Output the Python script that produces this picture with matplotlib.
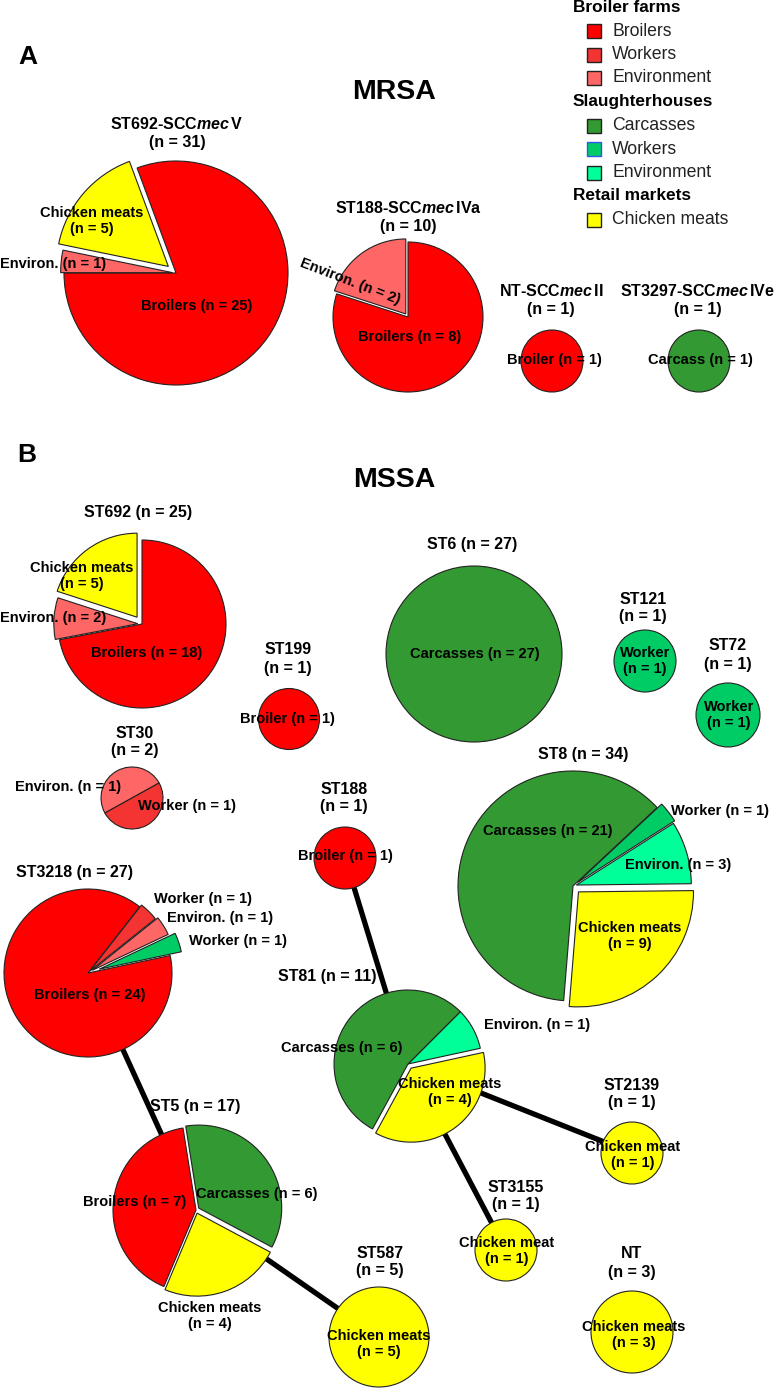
import math
import matplotlib.pyplot as plt
from matplotlib.patches import Rectangle

W, H = 777, 1389

plt.rcParams['font.family'] = ['Liberation Sans', 'DejaVu Sans']
plt.rcParams['mathtext.fontset'] = 'custom'
plt.rcParams['mathtext.rm'] = 'Liberation Sans:bold'
plt.rcParams['mathtext.it'] = 'Liberation Sans:italic:bold'
plt.rcParams['mathtext.bf'] = 'Liberation Sans:bold'

# --- colores por origen ---
colors = {
    'broiler': '#FF0000',
    'farm_worker': '#F43333',
    'farm_env': '#FF6666',
    'carcass': '#339933',
    'sh_worker': '#00CC66',
    'sh_env': '#00FF99',
    'meat': '#FFFF00',
}

# --- leyenda ---
legend_groups = ['Broiler farms', 'Slaughterhouses', 'Retail markets']
legend_items = [['Broilers', 'Workers', 'Environment'],
                ['Carcasses', 'Workers', 'Environment'],
                ['Chicken meats']]
legend_keys = [['broiler', 'farm_worker', 'farm_env'],
               ['carcass', 'sh_worker', 'sh_env'],
               ['meat']]

# --- datos MRSA ---
a_st692_title = 'ST692-SCC$\\mathit{mec}\\,$V\n(n = 31)'
a_st692_keys = ['broiler', 'meat', 'farm_env']
a_st692_names = ['Broilers', 'Chicken meats', 'Environ.']
a_st692_n = [25, 5, 1]

a_st188_title = 'ST188-SCC$\\mathit{mec}\\,$IVa\n(n = 10)'
a_st188_keys = ['farm_env', 'broiler']
a_st188_names = ['Environ.', 'Broilers']
a_st188_n = [2, 8]

a_nt_title = 'NT-SCC$\\mathit{mec}\\,$II\n(n = 1)'
a_nt_keys = ['broiler']
a_nt_names = ['Broiler']
a_nt_n = [1]

a_st3297_title = 'ST3297-SCC$\\mathit{mec}\\,$IVe\n(n = 1)'
a_st3297_keys = ['carcass']
a_st3297_names = ['Carcass']
a_st3297_n = [1]

# --- datos MSSA ---
b_st692_title = 'ST692 (n = 25)'
b_st692_keys = ['meat', 'farm_env', 'broiler']
b_st692_names = ['Chicken meats', 'Environ.', 'Broilers']
b_st692_n = [5, 2, 18]

b_st199_title = 'ST199\n(n = 1)'
b_st199_keys = ['broiler']
b_st199_names = ['Broiler']
b_st199_n = [1]

b_st6_title = 'ST6 (n = 27)'
b_st6_keys = ['carcass']
b_st6_names = ['Carcasses']
b_st6_n = [27]

b_st121_title = 'ST121\n(n = 1)'
b_st121_keys = ['sh_worker']
b_st121_names = ['Worker']
b_st121_n = [1]

b_st72_title = 'ST72\n(n = 1)'
b_st72_keys = ['sh_worker']
b_st72_names = ['Worker']
b_st72_n = [1]

b_st30_title = 'ST30\n(n = 2)'
b_st30_keys = ['farm_env', 'farm_worker']
b_st30_names = ['Environ.', 'Worker']
b_st30_n = [1, 1]

b_st8_title = 'ST8 (n = 34)'
b_st8_keys = ['sh_worker', 'sh_env', 'meat', 'carcass']
b_st8_names = ['Worker', 'Environ.', 'Chicken meats', 'Carcasses']
b_st8_n = [1, 3, 9, 21]

b_st188_title = 'ST188\n(n = 1)'
b_st188_keys = ['broiler']
b_st188_names = ['Broiler']
b_st188_n = [1]

b_st3218_title = 'ST3218 (n = 27)'
b_st3218_keys = ['broiler', 'sh_worker', 'farm_env', 'farm_worker']
b_st3218_names = ['Broilers', 'Worker', 'Environ.', 'Worker']
b_st3218_n = [24, 1, 1, 1]

b_st81_title = 'ST81 (n = 11)'
b_st81_keys = ['sh_env', 'meat', 'carcass']
b_st81_names = ['Environ.', 'Chicken meats', 'Carcasses']
b_st81_n = [1, 4, 6]

b_st5_title = 'ST5 (n = 17)'
b_st5_keys = ['carcass', 'meat', 'broiler']
b_st5_names = ['Carcasses', 'Chicken meats', 'Broilers']
b_st5_n = [6, 4, 7]

b_st2139_title = 'ST2139\n(n = 1)'
b_st2139_keys = ['meat']
b_st2139_names = ['Chicken meat']
b_st2139_n = [1]

b_st3155_title = 'ST3155\n(n = 1)'
b_st3155_keys = ['meat']
b_st3155_names = ['Chicken meat']
b_st3155_n = [1]

b_st587_title = 'ST587\n(n = 5)'
b_st587_keys = ['meat']
b_st587_names = ['Chicken meats']
b_st587_n = [5]

b_nt_title = 'NT\n(n = 3)'
b_nt_keys = ['meat']
b_nt_names = ['Chicken meats']
b_nt_n = [3]

# enlaces entre STs (MSSA)
b_links = [('st188', 'st81'), ('st3218', 'st5'), ('st5', 'st587'),
           ('st81', 'st2139'), ('st81', 'st3155')]

# --- posiciones (pixeles, y hacia abajo) ---
# c: centro, r: radio, t: titulo, explode: fraccion del radio,
# lab: (x, y, separador, rotacion) por porcion
pies = [
    (a_st692_title, a_st692_keys, a_st692_names, a_st692_n,
     dict(c=(176, 273), r=112, start=180, ccw=True, explode=[0, 0.09, 0.03], t=(177, 133),
          lab=[(197, 306, ' ', 0), (92, 221, '\n', 0), (53, 264, ' ', 0)])),
    (a_st188_title, a_st188_keys, a_st188_names, a_st188_n,
     dict(c=(408, 317), r=75, start=90, ccw=True, explode=[0.05, 0], t=(408, 217),
          lab=[(350, 282, ' ', -21), (410, 337, ' ', 0)])),
    (a_nt_title, a_nt_keys, a_nt_names, a_nt_n,
     dict(c=(552, 361), r=31, t=(551, 300), lab=[(554, 360, ' ', 0)])),
    (a_st3297_title, a_st3297_keys, a_st3297_names, a_st3297_n,
     dict(c=(699, 361), r=31, t=(698, 300), lab=[(700, 360, ' ', 0)])),
]

b_pies = {
    'st692': (b_st692_title, b_st692_keys, b_st692_names, b_st692_n,
              dict(c=(142, 624), r=84, start=90, ccw=True, explode=[0.1, 0.05, 0], t=(138, 512),
                   lab=[(82, 576, '\n', 0), (53, 618, ' ', 0), (147, 653, ' ', 0)])),
    'st199': (b_st199_title, b_st199_keys, b_st199_names, b_st199_n,
              dict(c=(289, 719), r=30.5, t=(288, 659), lab=[(287, 719, ' ', 0)])),
    'st6': (b_st6_title, b_st6_keys, b_st6_names, b_st6_n,
            dict(c=(474, 654), r=88, t=(472, 545), lab=[(475, 654, ' ', 0)])),
    'st121': (b_st121_title, b_st121_keys, b_st121_names, b_st121_n,
              dict(c=(645, 661), r=31, t=(643, 608), lab=[(645, 661, '\n', 0)])),
    'st72': (b_st72_title, b_st72_keys, b_st72_names, b_st72_n,
             dict(c=(728, 715), r=32, t=(728, 655), lab=[(729, 715, '\n', 0)])),
    'st30': (b_st30_title, b_st30_keys, b_st30_names, b_st30_n,
             dict(c=(132, 798), r=31, start=29, ccw=True, t=(135, 742),
                  lab=[(68, 787, ' ', 0), (187, 806, ' ', 0)])),
    'st8': (b_st8_title, b_st8_keys, b_st8_names, b_st8_n,
            dict(c=(573, 886), r=115, start=43, ccw=False, explode=[0.05, 0.03, 0.07, 0], t=(583, 755),
                 lab=[(720, 811, ' ', 0), (678, 865, ' ', 0), (630, 936, '\n', 0), (548, 831, ' ', 0)])),
    'st188': (b_st188_title, b_st188_keys, b_st188_names, b_st188_n,
              dict(c=(345, 858), r=31, t=(344, 798), lab=[(345, 856, ' ', 0)])),
    'st3218': (b_st3218_title, b_st3218_keys, b_st3218_names, b_st3218_n,
               dict(c=(88, 973), r=84, start=52, ccw=True, explode=[0, 0.14, 0.06, 0.03], t=(75, 873),
                    lab=[(90, 995, ' ', 0), (238, 941, ' ', 0), (220, 918, ' ', 0), (203, 899, ' ', 0)])),
    'st81': (b_st81_title, b_st81_keys, b_st81_names, b_st81_n,
             dict(c=(408, 1064), r=74, start=45, ccw=False, explode=[0, 0.07, 0], t=(327, 977),
                  lab=[(537, 1025, ' ', 0), (450, 1092, '\n', 0), (342, 1048, ' ', 0)])),
    'st5': (b_st5_title, b_st5_keys, b_st5_names, b_st5_n,
            dict(c=(196, 1210), r=83, start=99, ccw=False, explode=[0.04, 0.04, 0], t=(195, 1107),
                 lab=[(257, 1194, ' ', 0), (210, 1316, '\n', 0), (135, 1202, ' ', 0)])),
    'st2139': (b_st2139_title, b_st2139_keys, b_st2139_names, b_st2139_n,
               dict(c=(632, 1153), r=31, t=(632, 1094), lab=[(633, 1155, '\n', 0)])),
    'st3155': (b_st3155_title, b_st3155_keys, b_st3155_names, b_st3155_n,
               dict(c=(506, 1250), r=31, t=(516, 1196), lab=[(507, 1251, '\n', 0)])),
    'st587': (b_st587_title, b_st587_keys, b_st587_names, b_st587_n,
              dict(c=(379, 1337), r=50, t=(380, 1262), lab=[(379, 1344, '\n', 0)])),
    'nt': (b_nt_title, b_nt_keys, b_nt_names, b_nt_n,
           dict(c=(632, 1332), r=41, t=(632, 1263), lab=[(634, 1335, '\n', 0)])),
}

fig = plt.figure(figsize=(W / 100, H / 100), dpi=100)
ax = fig.add_axes([0, 0, 1, 1])


def draw_pie(title, keys, names, counts, lay):
    cx, cy = lay['c']
    r = lay['r']
    # pie() desplaza en unidades de datos, no en fraccion del radio
    expl = [e * r for e in lay['explode']] if 'explode' in lay else None
    ax.pie(counts, colors=[colors[k] for k in keys], radius=r, center=(cx, H - cy),
           startangle=lay.get('start', 90), counterclock=lay.get('ccw', True),
           explode=expl,
           wedgeprops=dict(edgecolor='#222222', linewidth=0.8, zorder=3))
    tx, ty = lay['t']
    ax.text(tx, H - ty, title, ha='center', va='center', fontsize=11.5,
            fontweight='bold', linespacing=1.25, zorder=5)
    for (lx, ly, sep, rot), name, n in zip(lay['lab'], names, counts):
        ax.text(lx, H - ly, f'{name}{sep}(n = {n})', ha='center', va='center',
                fontsize=10.5, fontweight='bold', rotation=rot, linespacing=1.2,
                rotation_mode='anchor', zorder=6)


for p in pies:
    draw_pie(*p)

# lineas de enlace: de borde a borde de cada circulo
for a, b in b_links:
    la, lb = b_pies[a][4], b_pies[b][4]
    (xa, ya), (xb, yb) = la['c'], lb['c']
    d = math.hypot(xb - xa, yb - ya)
    ux, uy = (xb - xa) / d, (yb - ya) / d
    x0, y0 = xa + ux * la['r'] * 0.9, ya + uy * la['r'] * 0.9
    x1, y1 = xb - ux * lb['r'] * 0.9, yb - uy * lb['r'] * 0.9
    ax.plot([x0, x1], [H - y0, H - y1], color='black', linewidth=3.8,
            solid_capstyle='butt', zorder=1)

for key, p in b_pies.items():
    draw_pie(*p)

# titulos de panel
ax.text(18, H - 57, 'A', fontsize=19, fontweight='bold', ha='left', va='center')
ax.text(394, H - 92, 'MRSA', fontsize=20.5, fontweight='bold', ha='center', va='center')
ax.text(17, H - 455, 'B', fontsize=19, fontweight='bold', ha='left', va='center')
ax.text(394, H - 480, 'MSSA', fontsize=20.5, fontweight='bold', ha='center', va='center')

# leyenda
y = 7
for group, items, keys in zip(legend_groups, legend_items, legend_keys):
    ax.text(573, H - y, group, fontsize=12.4, fontweight='bold', ha='left', va='center')
    y += 24
    for item, k in zip(items, keys):
        edge = '#3355EE' if k == 'sh_worker' else '#222222'
        ax.add_patch(Rectangle((587, H - y - 7), 14, 14, facecolor=colors[k],
                               edgecolor=edge, linewidth=1.0, zorder=5))
        ax.text(612, H - y, item, fontsize=12.7, ha='left', va='center', color='#222222')
        y += 23.5

ax.set_xlim(0, W)
ax.set_ylim(0, H)
ax.set_aspect('equal')
ax.axis('off')

fig.savefig('out.png', dpi=100)
